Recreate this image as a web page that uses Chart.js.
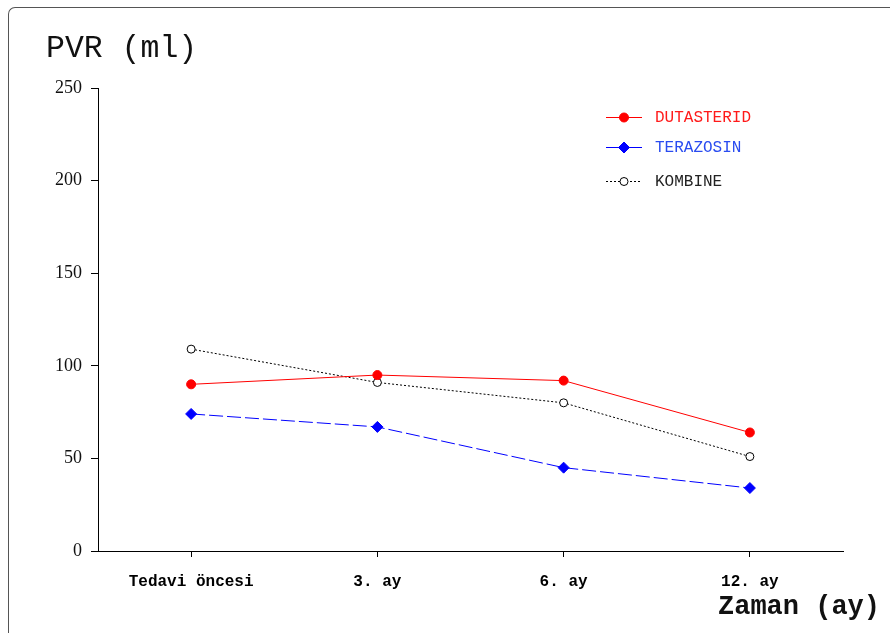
<!DOCTYPE html>
<html>
<head>
<meta charset="utf-8">
<script src="https://cdn.jsdelivr.net/npm/chart.js@4/dist/chart.umd.min.js"></script>
<style>
  html, body { margin: 0; padding: 0; background: #fff; }
  body { width: 890px; height: 635px; position: relative; overflow: hidden; }
  #frame { position: absolute; left: 8px; top: 7px; width: 900px; height: 625px;
           border-left: 1.5px solid #555; border-top: 1.5px solid #555; border-top-left-radius: 7px; }
  #wrap { position: absolute; left: 0; top: 0; width: 890px; height: 635px; }
  .t { position: absolute; white-space: nowrap; color: #111; font-family: "Liberation Mono", monospace; }
  #ytitle { left: 46px; top: 31px; font-size: 31.5px; line-height: 36px; }
  #xtitle { left: 718px; top: 591px; font-size: 27px; line-height: 32px; font-weight: bold; }
</style>
</head>
<body>
<div id="frame"></div>
<div id="wrap"><canvas id="c" width="890" height="635"></canvas></div>
<div class="t" id="ytitle">PVR (ml)</div>
<div class="t" id="xtitle">Zaman (ay)</div>
<script>
const categories = ["Tedavi öncesi", "3. ay", "6. ay", "12. ay"];
const dutasterid = [90, 95, 92, 64];
const terazosin = [74, 67, 45, 34];
const kombine = [109, 91, 80, 51];
const yTicks = [0, 50, 100, 150, 200, 250];
const seriesNames = ["DUTASTERID", "TERAZOSIN", "KOMBINE"];

const legendPlugin = {
  id: 'customLegend',
  afterDraw(chart) {
    const ctx = chart.ctx;
    const items = [
      { y: 117, color: '#ff0000', text: '#ff1a1a', dash: [], style: 'circle', fill: '#ff0000', r: 4.5 },
      { y: 147, color: '#0000ff', text: '#2a4cf0', dash: [], style: 'diamond', fill: '#0000ff', r: 5.5 },
      { y: 181, color: '#000000', text: '#222222', dash: [2, 2], style: 'circle', fill: '#ffffff', r: 4 }
    ];
    ctx.save();
    items.forEach((it, i) => {
      ctx.setLineDash(it.dash);
      ctx.strokeStyle = it.color;
      ctx.lineWidth = 1;
      ctx.beginPath();
      ctx.moveTo(606, it.y + 0.5);
      ctx.lineTo(642, it.y + 0.5);
      ctx.stroke();
      ctx.setLineDash([]);
      const cx = 624, cy = it.y + 0.5;
      ctx.beginPath();
      if (it.style === 'circle') {
        ctx.arc(cx, cy, it.r, 0, Math.PI * 2);
      } else {
        ctx.moveTo(cx, cy - it.r); ctx.lineTo(cx + it.r, cy);
        ctx.lineTo(cx, cy + it.r); ctx.lineTo(cx - it.r, cy); ctx.closePath();
      }
      ctx.fillStyle = it.fill;
      ctx.fill();
      ctx.strokeStyle = it.color;
      ctx.stroke();
      ctx.fillStyle = it.text;
      ctx.font = '16px "Liberation Mono", monospace';
      ctx.textBaseline = 'middle';
      ctx.textAlign = 'left';
      ctx.fillText(seriesNames[i], 655, it.y + 1);
    });
    ctx.restore();
  }
};

new Chart(document.getElementById('c'), {
  type: 'line',
  data: {
    labels: categories,
    datasets: [
      { label: seriesNames[0], data: dutasterid, borderColor: '#ff0000', backgroundColor: '#ff0000',
        borderWidth: 1, pointStyle: 'circle', pointRadius: 4.5, pointBackgroundColor: '#ff0000',
        pointBorderColor: '#ff0000', pointBorderWidth: 1, tension: 0 },
      { label: seriesNames[1], data: terazosin, borderColor: '#0000ff', backgroundColor: '#0000ff',
        borderWidth: 1, borderDash: [14, 4], pointStyle: 'rectRot', pointRadius: 5.5, pointBackgroundColor: '#0000ff',
        pointBorderColor: '#0000ff', pointBorderWidth: 1, tension: 0 },
      { label: seriesNames[2], data: kombine, borderColor: '#000000', backgroundColor: '#ffffff',
        borderWidth: 1, borderDash: [2, 2], pointStyle: 'circle', pointRadius: 4, pointBackgroundColor: '#ffffff',
        pointBorderColor: '#000000', pointBorderWidth: 1, tension: 0 }
    ]
  },
  options: {
    responsive: false,
    animation: false,
    devicePixelRatio: 1,
    layout: { padding: { top: 88, right: 47, left: 0, bottom: 0 } },
    plugins: { legend: { display: false }, tooltip: { enabled: false }, title: { display: false } },
    scales: {
      x: {
        type: 'category',
        offset: true,
        grid: { display: true, drawOnChartArea: false, drawTicks: true, tickLength: 6, color: '#000', offset: false },
        border: { display: true, color: '#000', width: 1 },
        ticks: { color: '#000', padding: 15, maxRotation: 0, autoSkip: false,
                 font: { family: '"Liberation Mono", monospace', size: 16, weight: 'bold' } },
        afterFit(s) { s.height = 84; }
      },
      y: {
        min: 0, max: 250,
        afterBuildTicks(s) { s.ticks = yTicks.map(v => ({ value: v })); },
        grid: { display: true, drawOnChartArea: false, drawTicks: true, tickLength: 7, color: '#000' },
        border: { display: true, color: '#000', width: 1 },
        ticks: { color: '#111', padding: 9, font: { family: '"Liberation Serif", serif', size: 18 } },
        afterFit(s) { s.width = 98; }
      }
    }
  },
  plugins: [legendPlugin]
});
</script>
</body>
</html>
